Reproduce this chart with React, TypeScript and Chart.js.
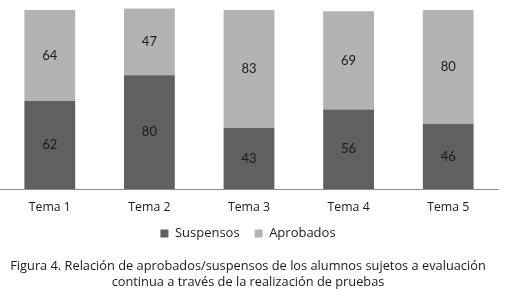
import React, { useEffect, useRef } from "react";
import { Chart, registerables } from "chart.js";

Chart.register(...registerables);

const categories = ["Tema 1", "Tema 2", "Tema 3", "Tema 4", "Tema 5"];
const suspensos = [62, 80, 43, 56, 46];
const aprobados = [64, 47, 83, 69, 80];
const caption = [
  "Figura 4. Relación de aprobados/suspensos de los alumnos sujetos a evaluación",
  "continua a través de la realización de pruebas",
];

const FONT = "'Open Sans', 'Noto Sans', sans-serif";

const valueLabels = {
  id: "valueLabels",
  afterDatasetsDraw(chart: any) {
    const ctx = chart.ctx;
    ctx.save();
    ctx.font = "13px Lato, 'Open Sans', sans-serif";
    ctx.fillStyle = "#1a1a1a";
    ctx.textAlign = "center";
    ctx.textBaseline = "middle";
    chart.data.datasets.forEach((ds: any, i: number) => {
      const meta = chart.getDatasetMeta(i);
      meta.data.forEach((bar: any, j: number) => {
        const p = bar.getProps(["x", "y", "base"], true);
        ctx.fillText(String(ds.data[j]), p.x, (p.y + p.base) / 2);
      });
    });
    ctx.restore();
  },
};

export default function App() {
  const ref = useRef<HTMLCanvasElement | null>(null);
  useEffect(() => {
    document.body.style.margin = "0";
    const chart = new Chart(ref.current as HTMLCanvasElement, {
      type: "bar",
      data: {
        labels: categories,
        datasets: [
          {
            label: "Suspensos",
            data: suspensos,
            backgroundColor: "#606060",
            barPercentage: 0.51,
            categoryPercentage: 1,
          },
          {
            label: "Aprobados",
            data: aprobados,
            backgroundColor: "#b3b3b3",
            barPercentage: 0.51,
            categoryPercentage: 1,
          },
        ],
      },
      options: {
        animation: false,
        responsive: false,
        maintainAspectRatio: false,
        layout: { padding: { left: -2, right: 11, top: 0, bottom: 0 } },
        scales: {
          x: {
            stacked: true,
            grid: { display: false, drawTicks: false },
            border: { display: true, color: "#8c8c8c", width: 1 },
            ticks: {
              color: "#1a1a1a",
              padding: 18,
              font: { family: FONT, size: 12.3, lineHeight: 0 },
            },
            afterFit: (scale: any) => {
              scale.height = 23;
            },
          },
          y: {
            stacked: true,
            display: false,
            min: 0,
            max: 133,
          },
        },
        plugins: {
          legend: {
            position: "bottom",
            labels: {
              boxWidth: 8,
              boxHeight: 8,
              padding: 15,
              color: "#1a1a1a",
              font: { family: FONT, size: 13 },
            },
          },
          title: {
            display: true,
            position: "bottom",
            text: caption,
            color: "#1a1a1a",
            font: { family: FONT, size: 12.8, weight: "normal", lineHeight: 1.25 },
            padding: { top: 8, bottom: 1 },
          },
          tooltip: { enabled: false },
        },
      },
      plugins: [valueLabels],
    });
    return () => chart.destroy();
  }, []);
  return (
    <div style={{ position: "absolute", left: 0, top: 0, width: 509, height: 291 }}>
      <canvas ref={ref} width={509} height={291} style={{ display: "block" }} />
    </div>
  );
}
